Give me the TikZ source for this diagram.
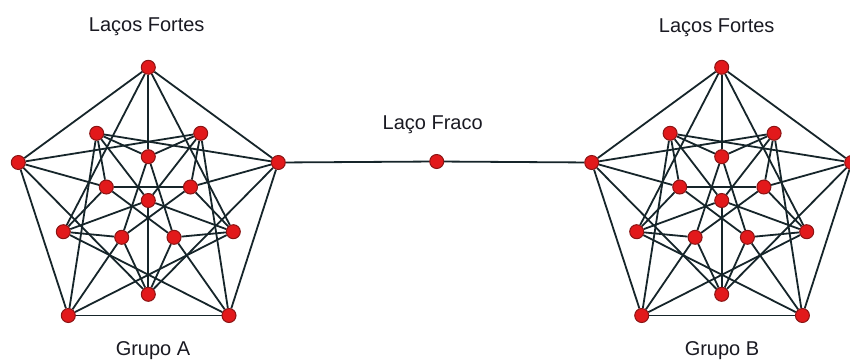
\documentclass[tikz,border=0pt]{standalone}
\usepackage{fontspec}
\setmainfont{Liberation Sans}
\usetikzlibrary{backgrounds}
\definecolor{edgec}{HTML}{16252A}
\definecolor{nodefill}{HTML}{E2191B}
\definecolor{nodeline}{HTML}{8A1414}
\definecolor{txt}{HTML}{1A1A22}
\tikzset{
 vtx/.style={circle,fill=nodefill,draw=nodeline,line width=1pt,inner sep=0pt,minimum size=14pt},
 lnk/.style={draw=edgec,line width=1.8pt},
 lbl/.style={text=txt,font=\fontsize{20}{24}\selectfont,inner sep=0pt,anchor=base},
}
\newcommand\clebschgroup[2]{%
 \begin{scope}[shift={(#2,0)}]
 \node[vtx] (#1T) at (148.3,67.3) {};
 \node[vtx] (#1L) at (18.3,162.5) {};
 \node[vtx] (#1R) at (278.3,162.5) {};
 \node[vtx] (#1BL) at (68.3,315.5) {};
 \node[vtx] (#1BR) at (229,315.5) {};
 \node[vtx] (#1M0) at (148.3,294.3) {};
 \node[vtx] (#1M1) at (63.3,231.7) {};
 \node[vtx] (#1M2) at (96.7,133.3) {};
 \node[vtx] (#1M3) at (200.7,133.3) {};
 \node[vtx] (#1M4) at (233.3,231.7) {};
 \node[vtx] (#1I0) at (148.3,156.7) {};
 \node[vtx] (#1I1) at (190.5,187) {};
 \node[vtx] (#1I2) at (174,237.3) {};
 \node[vtx] (#1I3) at (121.7,237.3) {};
 \node[vtx] (#1I4) at (106.3,187) {};
 \node[vtx] (#1C) at (148.3,200.5) {};
 \end{scope}
 \begin{scope}[on background layer]
 \foreach \a/\b in {T/R,R/BR,BR/BL,BL/L,L/T,
   T/I0,R/I1,BR/I2,BL/I3,L/I4,
   I0/I2,I1/I3,I2/I4,I3/I0,I4/I1,
   T/M1,T/M4,R/M0,R/M2,BR/M1,BR/M3,BL/M2,BL/M4,L/M3,L/M0,
   I0/M2,I0/M3,I1/M3,I1/M4,I2/M4,I2/M0,I3/M0,I3/M1,I4/M1,I4/M2,
   C/M0,C/M1,C/M2,C/M3,C/M4}
  {\draw[lnk] (#1\a) -- (#1\b);}
 \end{scope}
}
\begin{document}
\begin{tikzpicture}[x=1pt,y=-1pt]
\begin{scope}[on background layer]
\fill[white] (0,0) rectangle (850,361);
\end{scope}
\useasboundingbox (0,0) rectangle (850,361);
\clebschgroup{A}{0}
\clebschgroup{B}{573.4}
\node[vtx] (W) at (436.7,161.5) {};
\begin{scope}[on background layer]
\draw[lnk] (AR) -- (W) -- (BL);
\end{scope}
\node[lbl] (la) at (146.7,31.7) {Laços Fortes};
\node[lbl] (lb) at (716.7,32.3) {Laços Fortes};
\node[lbl] (lw) at (432.7,129) {Laço Fraco};
\node[lbl] (ga) at (153,355) {Grupo A};
\node[lbl] (gb) at (722,355) {Grupo B};
\end{tikzpicture}
\end{document}
